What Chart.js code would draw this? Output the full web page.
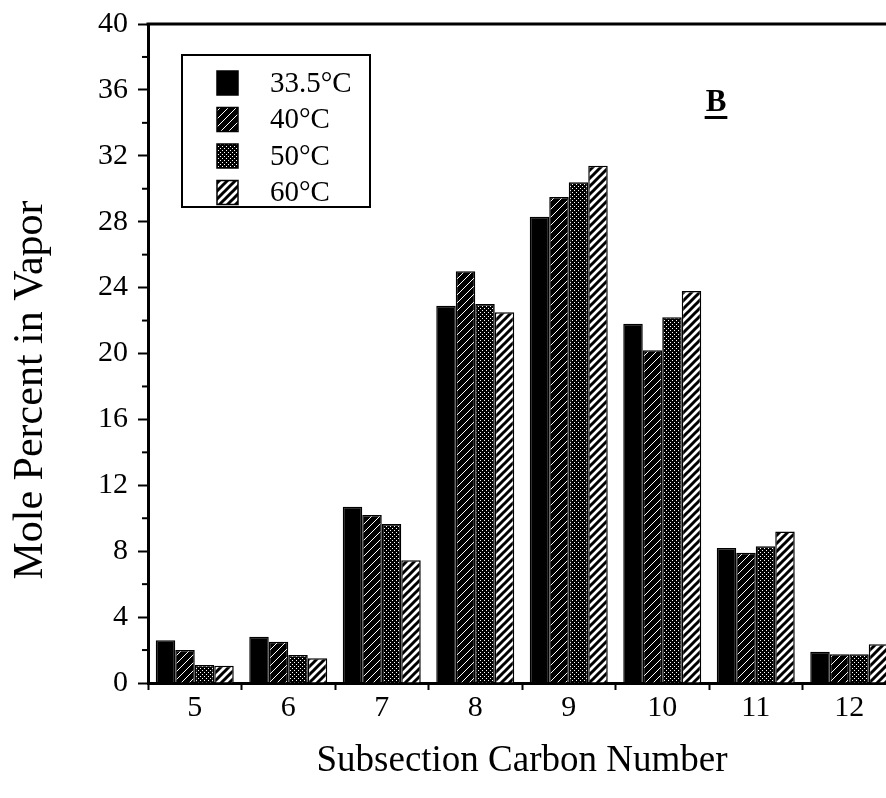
<!DOCTYPE html>
<html lang="en">
<head>
<meta charset="UTF-8" />
<title>Mole Percent in Vapor</title>
<script src="https://cdn.jsdelivr.net/npm/chart.js"></script>
<style>
  html, body { margin: 0; padding: 0; background: #fff; overflow: hidden; }
</style>
</head>
<body>
<canvas id="chart" width="896" height="798"></canvas>
<script>
  // data
  const carbonNumbers = ['5', '6', '7', '8', '9', '10', '11', '12'];
  const seriesNames = ['33.5°C', '40°C', '50°C', '60°C'];
  const temp335 = [2.6, 2.8, 10.7, 22.9, 28.3, 21.8, 8.2, 1.9];
  const temp40  = [2.0, 2.5, 10.2, 25.0, 29.5, 20.2, 7.9, 1.75];
  const temp50  = [1.1, 1.7, 9.65, 23.0, 30.4, 22.2, 8.3, 1.75];
  const temp60  = [1.05, 1.5, 7.45, 22.5, 31.4, 23.8, 9.2, 2.35];
  const panelLabel = 'B';
  const yTitle = 'Mole Percent in Vapor';

  const serif = "'Liberation Serif', 'DejaVu Serif', serif";

  function makePattern(kind) {
    const c = document.createElement('canvas');
    const g = c.getContext('2d');
    if (kind === 'hatchDark') {
      c.width = c.height = 8;
      g.fillStyle = '#000'; g.fillRect(0, 0, 8, 8);
      g.strokeStyle = '#fff'; g.lineWidth = 1;
      g.beginPath(); g.moveTo(0, 8); g.lineTo(8, 0); g.stroke();
    } else if (kind === 'dots') {
      c.width = c.height = 4;
      g.fillStyle = '#000'; g.fillRect(0, 0, 4, 4);
      g.fillStyle = '#fff';
      g.fillRect(0, 0, 1, 1); g.fillRect(2, 2, 1, 1);
    } else if (kind === 'stripes') {
      c.width = c.height = 8;
      g.fillStyle = '#fff'; g.fillRect(0, 0, 8, 8);
      g.strokeStyle = '#000'; g.lineWidth = 3;
      g.beginPath();
      g.moveTo(-2, 10); g.lineTo(10, -2);
      g.moveTo(-2, 2); g.lineTo(2, -2);
      g.moveTo(6, 10); g.lineTo(10, 6);
      g.stroke();
    }
    return g.createPattern(c, 'repeat');
  }

  const fills = ['#000', makePattern('hatchDark'), makePattern('dots'), makePattern('stripes')];
  const values = [temp335, temp40, temp50, temp60];

  // top frame line, minor y ticks, y title, panel label and boxed legend
  const decorations = {
    id: 'decorations',
    afterDraw(chart) {
      const ctx = chart.ctx;
      const area = chart.chartArea;
      const y = chart.scales.y;
      ctx.save();
      ctx.strokeStyle = '#000';
      ctx.lineWidth = 3;
      ctx.beginPath();
      ctx.moveTo(area.left - 1.5, area.top);
      ctx.lineTo(area.right, area.top);
      ctx.stroke();

      ctx.lineWidth = 2;
      for (let v = 2; v < 40; v += 4) {
        const py = y.getPixelForValue(v);
        ctx.beginPath();
        ctx.moveTo(area.left - 6, py);
        ctx.lineTo(area.left, py);
        ctx.stroke();
      }

      // y axis title
      ctx.fillStyle = '#000';
      ctx.font = '42px ' + serif;
      ctx.textAlign = 'center';
      ctx.textBaseline = 'middle';
      ctx.translate(31, 390);
      ctx.rotate(-Math.PI / 2);
      ctx.fillText(yTitle, 0, 0);
      ctx.setTransform(1, 0, 0, 1, 0, 0);

      // panel label
      ctx.font = 'bold 31px ' + serif;
      ctx.textBaseline = 'alphabetic';
      const bx = 716, by = 111;
      ctx.fillText(panelLabel, bx, by);
      const bw = ctx.measureText(panelLabel).width;
      ctx.fillRect(bx - bw / 2 - 1, by + 5, bw + 2, 3);

      // legend box
      ctx.lineWidth = 2;
      ctx.strokeRect(182, 55, 188, 152);
      ctx.font = '29px ' + serif;
      ctx.textAlign = 'left';
      ctx.textBaseline = 'middle';
      chart.data.datasets.forEach((ds, i) => {
        const cy = 83 + i * 36.5;
        ctx.fillStyle = ds.backgroundColor;
        ctx.fillRect(217, cy - 12, 21, 24);
        ctx.lineWidth = 1.5;
        ctx.strokeRect(217, cy - 12, 21, 24);
        ctx.fillStyle = '#000';
        ctx.fillText(ds.label, 270, cy + 1);
      });
      ctx.restore();
    }
  };

  new Chart(document.getElementById('chart'), {
    type: 'bar',
    data: {
      labels: carbonNumbers,
      datasets: seriesNames.map((name, i) => ({
        label: name,
        data: values[i],
        backgroundColor: fills[i],
        borderColor: '#000',
        borderWidth: 1.5,
        categoryPercentage: 0.834,
        barPercentage: 1.0
      }))
    },
    options: {
      responsive: false,
      animation: false,
      layout: { padding: { top: 24, right: 0, left: 0, bottom: 0 } },
      plugins: { legend: { display: false }, tooltip: { enabled: false } },
      scales: {
        x: {
          offset: true,
          grid: { offset: true, drawOnChartArea: false, tickLength: 7, tickWidth: 2, color: '#000' },
          border: { color: '#000', width: 3 },
          ticks: { color: '#000', font: { family: serif, size: 30 }, padding: 0 },
          title: {
            display: true, text: 'Subsection Carbon Number', color: '#000',
            font: { family: serif, size: 37 }, padding: { top: 0, bottom: 15 }
          },
          afterFit(s) { s.height = 115; }
        },
        y: {
          min: 0, max: 40,
          grid: { drawOnChartArea: false, tickLength: 10, tickWidth: 2, color: '#000' },
          border: { color: '#000', width: 3 },
          ticks: { stepSize: 4, color: '#000', font: { family: serif, size: 30 }, padding: 10 },
          afterFit(s) { s.width = 148; s.paddingTop = 0; s.paddingBottom = 0; }
        }
      }
    },
    plugins: [decorations]
  });
</script>
</body>
</html>
